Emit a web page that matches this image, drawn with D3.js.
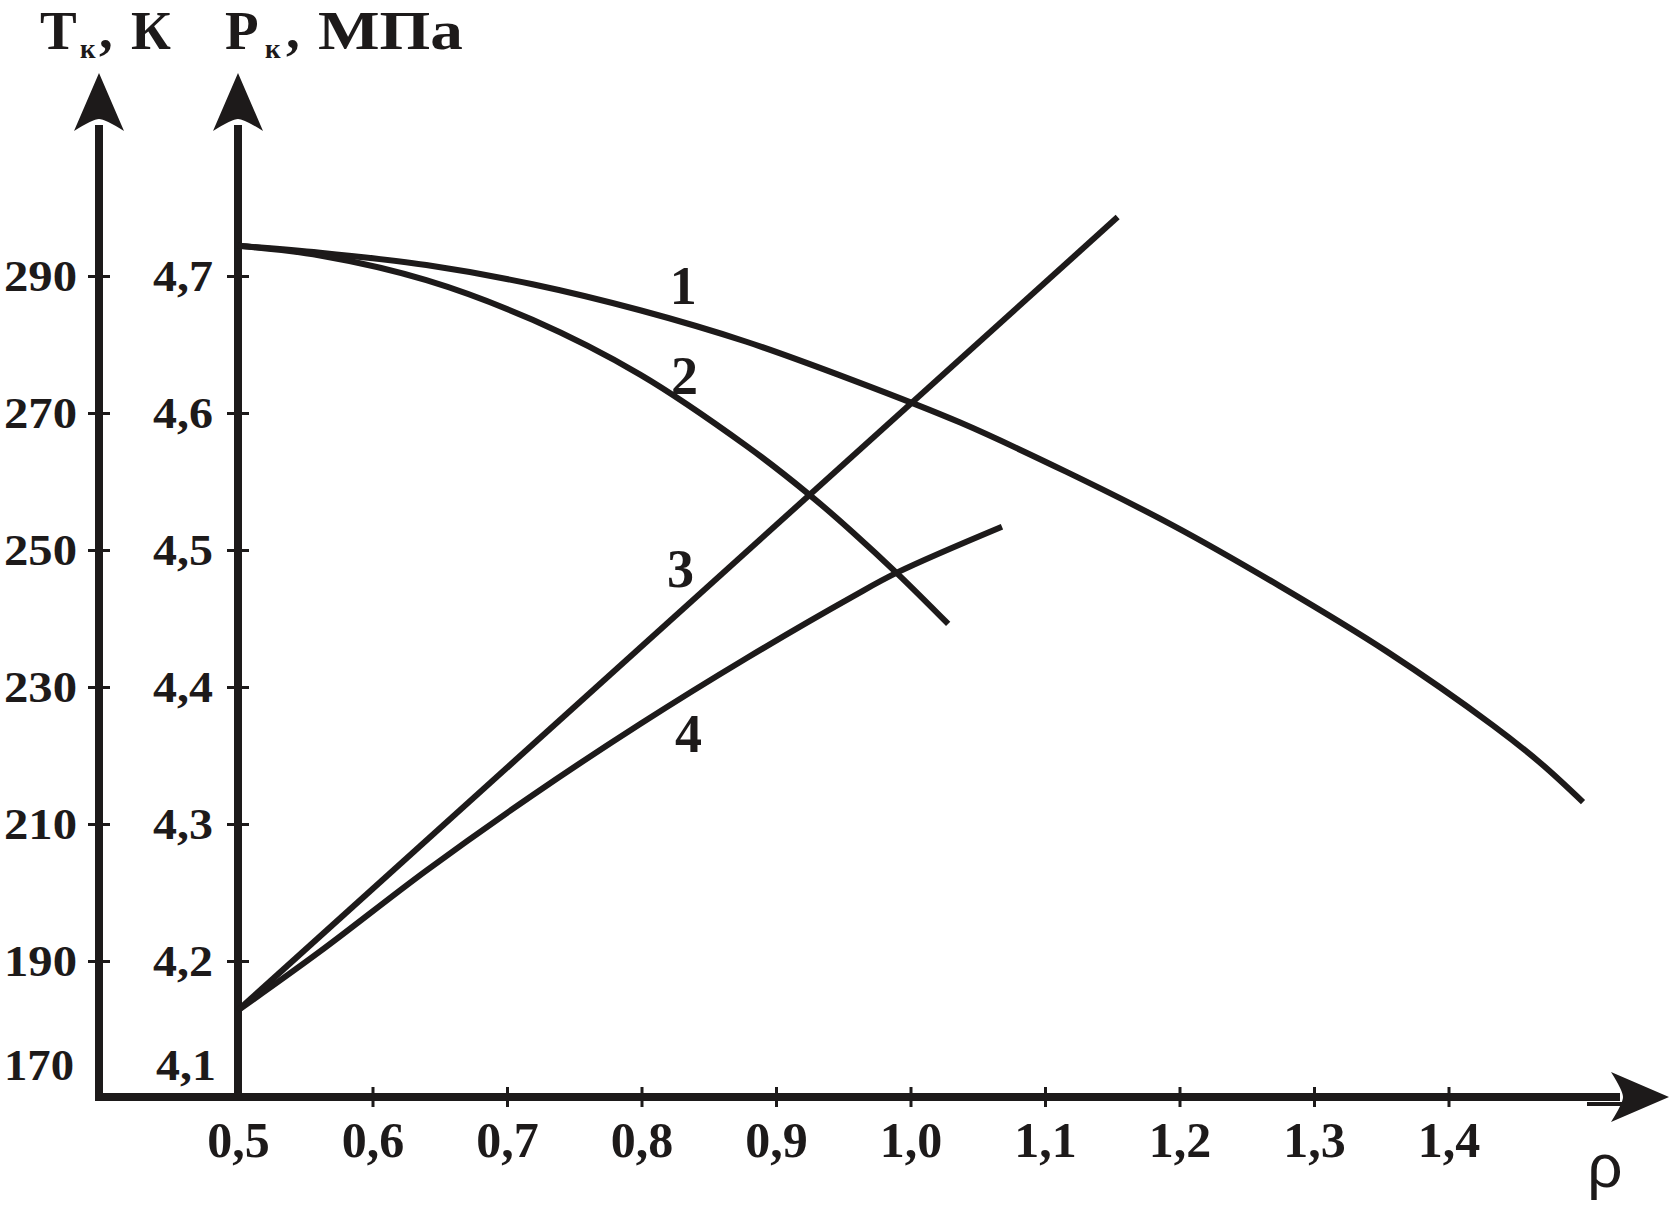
<!DOCTYPE html>
<html>
<head>
<meta charset="utf-8">
<script src="https://cdn.jsdelivr.net/npm/d3@7"></script>
<style>
  html, body { margin: 0; padding: 0; background: #ffffff; }
  svg { display: block; }
</style>
</head>
<body>
<svg id="chart" width="1672" height="1205"></svg>
<script>
// ---------- data ----------
const rhoTicks = [0.5, 0.6, 0.7, 0.8, 0.9, 1.0, 1.1, 1.2, 1.3, 1.4];
const pTicks   = [4.1, 4.2, 4.3, 4.4, 4.5, 4.6, 4.7];
const tTicks   = [170, 190, 210, 230, 250, 270, 290];

// curve 1 : [rho, P (MPa)]
const curve1 = [
  [0.500, 4.722], [0.561, 4.717], [0.640, 4.708], [0.719, 4.694],
  [0.799, 4.675], [0.878, 4.652], [0.957, 4.624], [1.037, 4.593],
  [1.116, 4.557], [1.195, 4.518], [1.274, 4.474], [1.354, 4.426],
  [1.433, 4.372], [1.469, 4.344], [1.500, 4.316]
];
// curve 2
const curve2 = [
  [0.500, 4.722], [0.561, 4.715], [0.640, 4.697], [0.719, 4.668],
  [0.799, 4.628], [0.878, 4.576], [0.924, 4.541], [0.957, 4.513],
  [0.991, 4.482], [1.028, 4.446]
];
// line 3
const curve3 = [
  [0.500, 4.164], [1.154, 4.743]
];
// curve 4
const curve4 = [
  [0.500, 4.164], [0.561, 4.207], [0.640, 4.266], [0.719, 4.321],
  [0.799, 4.373], [0.878, 4.421], [0.957, 4.466], [0.991, 4.484],
  [1.068, 4.517]
];
const curveNames = ["1", "2", "3", "4"];
// label anchor points [rho, P]
const curveLabelPos = [[0.831, 4.693], [0.832, 4.628], [0.829, 4.487], [0.835, 4.366]];

// ---------- drawing ----------
const ink = "#1d1a1a";
const svg = d3.select("#chart");

const x  = d3.scaleLinear().domain([0.5, 1.5]).range([238, 1583]);
const y  = d3.scaleLinear().domain([4.1, 4.7]).range([1098, 276]);
const yT = d3.scaleLinear().domain([170, 290]).range([1098, 276]);

const xAxisY = y(4.1) - 1;   // horizontal axis line
const tAxisX = 99;           // temperature axis
const pAxisX = x(0.5);       // pressure axis
const fmt = d => d.toFixed(1).replace(".", ",");
const serif = "'Liberation Serif', 'Times New Roman', serif";

// arrowheads
function arrowUp(cx, tip) {
  return `M${cx},${tip} L${cx + 25},${tip + 58} Q${cx + 6},${tip + 46} ${cx},${tip + 46} Q${cx - 6},${tip + 46} ${cx - 25},${tip + 58} Z`;
}
function arrowRight(tip, cy) {
  return `M${tip},${cy} L${tip - 58},${cy - 25} Q${tip - 46},${cy - 6} ${tip - 46},${cy} Q${tip - 46},${cy + 6} ${tip - 58},${cy + 25} Z`;
}

// axis lines
svg.append("line").attr("x1", tAxisX).attr("x2", tAxisX).attr("y1", xAxisY + 4).attr("y2", 125)
  .attr("stroke", ink).attr("stroke-width", 8);
svg.append("line").attr("x1", pAxisX).attr("x2", pAxisX).attr("y1", xAxisY + 4).attr("y2", 125)
  .attr("stroke", ink).attr("stroke-width", 8);
svg.append("line").attr("x1", tAxisX - 4).attr("x2", 1620).attr("y1", xAxisY).attr("y2", xAxisY)
  .attr("stroke", ink).attr("stroke-width", 8);
svg.append("path").attr("d", arrowUp(tAxisX, 73)).attr("fill", ink);
svg.append("path").attr("d", arrowUp(pAxisX, 73)).attr("fill", ink);
svg.append("path").attr("d", arrowRight(1669, xAxisY)).attr("fill", ink);

// T axis ticks + labels
const gT = svg.append("g").attr("transform", `translate(${tAxisX},0)`)
  .call(d3.axisLeft(yT).tickValues(tTicks).tickSize(11).tickPadding(11).tickFormat(d3.format("d")));
gT.select(".domain").remove();
gT.selectAll(".tick line").attr("x1", 11).attr("stroke", ink).attr("stroke-width", 3);
gT.selectAll(".tick text").attr("font-family", serif).attr("font-weight", "bold")
  .attr("font-size", 44).attr("fill", ink)
  .attr("textLength", 73).attr("lengthAdjust", "spacingAndGlyphs");
gT.selectAll(".tick").filter(d => d === 170).select("line").remove();
gT.selectAll(".tick").filter(d => d === 170).select("text")
  .attr("dy", "-0.42em").attr("x", -25).attr("textLength", 70);

// P axis ticks + labels
const gP = svg.append("g").attr("transform", `translate(${pAxisX},0)`)
  .call(d3.axisLeft(y).tickValues(pTicks).tickSize(11).tickPadding(14).tickFormat(fmt));
gP.select(".domain").remove();
gP.selectAll(".tick line").attr("x1", 11).attr("stroke", ink).attr("stroke-width", 3);
gP.selectAll(".tick text").attr("font-family", serif).attr("font-weight", "bold")
  .attr("font-size", 44).attr("fill", ink)
  .attr("textLength", 60).attr("lengthAdjust", "spacingAndGlyphs");
gP.selectAll(".tick").filter(d => d === 4.1).select("line").remove();
gP.selectAll(".tick").filter(d => d === 4.1).select("text").attr("dy", "-0.42em").attr("x", -22);

// rho axis ticks + labels
const gX = svg.append("g").attr("transform", `translate(0,${xAxisY})`)
  .call(d3.axisBottom(x).tickValues(rhoTicks).tickSize(10).tickPadding(14).tickFormat(fmt));
gX.select(".domain").remove();
gX.selectAll(".tick line").attr("y1", -10).attr("stroke", ink).attr("stroke-width", 3);
gX.selectAll(".tick").filter(d => d === 0.5).select("line").remove();
gX.selectAll(".tick text").attr("font-family", serif).attr("font-weight", "bold")
  .attr("font-size", 50).attr("fill", ink);

// axis titles
const titleParts = [
  { t: "Т",   x: 40,  y: 49, s: 55 },
  { t: "к",   x: 80,  y: 58, s: 27 },
  { t: ",",   x: 99,  y: 48, s: 55 },
  { t: "К",   x: 131, y: 49, s: 55 },
  { t: "Р",   x: 225, y: 49, s: 55 },
  { t: "к",   x: 265, y: 58, s: 27 },
  { t: ",",   x: 286, y: 48, s: 55 },
  { t: "МПа", x: 318, y: 49, s: 55, len: 145 }
];
titleParts.forEach(p => {
  const t = svg.append("text").attr("x", p.x).attr("y", p.y)
    .attr("font-family", serif).attr("font-weight", "bold").attr("font-size", p.s)
    .attr("fill", ink).text(p.t);
  if (p.len) t.attr("textLength", p.len).attr("lengthAdjust", "spacingAndGlyphs");
});

// rho label with overbar
svg.append("line").attr("x1", 1587).attr("x2", 1623).attr("y1", 1104).attr("y2", 1104)
  .attr("stroke", ink).attr("stroke-width", 4);
svg.append("text").attr("x", 1605).attr("y", 1187).attr("text-anchor", "middle")
  .attr("font-family", "'Liberation Sans', Arial, sans-serif").attr("font-size", 62)
  .attr("fill", ink).text("ρ");

// curves
const line = d3.line().x(d => x(d[0])).y(d => y(d[1])).curve(d3.curveCatmullRom.alpha(0.5));
[curve1, curve2, curve3, curve4].forEach(c => {
  svg.append("path").datum(c).attr("d", line).attr("fill", "none")
    .attr("stroke", ink).attr("stroke-width", 6).attr("stroke-linecap", "butt");
});

// curve labels
svg.selectAll(".clabel").data(curveNames).enter().append("text")
  .attr("class", "clabel")
  .attr("x", (d, i) => x(curveLabelPos[i][0]))
  .attr("y", (d, i) => y(curveLabelPos[i][1]))
  .attr("dy", "0.35em").attr("text-anchor", "middle")
  .attr("font-family", serif).attr("font-weight", "bold").attr("font-size", 54)
  .attr("fill", ink).text(d => d);
</script>
</body>
</html>
